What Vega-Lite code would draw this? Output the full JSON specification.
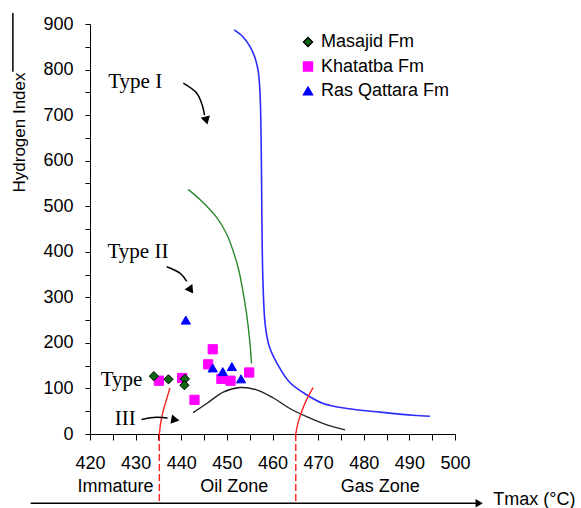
{
  "$schema": "https://vega.github.io/schema/vega-lite/v6.json",
  "width": 365,
  "height": 410,
  "autosize": {"type": "none"},
  "padding": {"left": 90, "top": 24, "right": 126, "bottom": 74},
  "background": "white",
  "config": {
    "view": {"stroke": null},
    "font": "Liberation Sans",
    "axis": {"grid": false, "domainColor": "#000", "tickColor": "#000", "labelColor": "#000", "titleColor": "#000", "labelFont": "Liberation Sans", "titleFont": "Liberation Sans", "labelFontSize": 18, "domainWidth": 1, "tickWidth": 1, "labelFlush": false, "labelOverlap": false},
    "legend": {"orient": "none", "legendX": 209, "legendY": 9, "padding": 0, "labelFontSize": 18, "labelFont": "Liberation Sans", "labelColor": "#000", "symbolSize": 80, "rowPadding": 6.5, "labelOffset": 4}
  },
  "datasets": {
    "samples": [
      {"series": "Khatatba Fm", "tmax": 446.9, "hi": 186},
      {"series": "Khatatba Fm", "tmax": 445.9, "hi": 153},
      {"series": "Khatatba Fm", "tmax": 440.2, "hi": 123},
      {"series": "Khatatba Fm", "tmax": 435.1, "hi": 117},
      {"series": "Khatatba Fm", "tmax": 442.9, "hi": 75},
      {"series": "Khatatba Fm", "tmax": 448.8, "hi": 121},
      {"series": "Khatatba Fm", "tmax": 450.8, "hi": 117},
      {"series": "Khatatba Fm", "tmax": 454.9, "hi": 135},
      {"series": "Masajid Fm", "tmax": 434.0, "hi": 127},
      {"series": "Masajid Fm", "tmax": 437.2, "hi": 120},
      {"series": "Masajid Fm", "tmax": 440.8, "hi": 121},
      {"series": "Masajid Fm", "tmax": 440.7, "hi": 107},
      {"series": "Ras Qattara Fm", "tmax": 441.0, "hi": 250},
      {"series": "Ras Qattara Fm", "tmax": 446.9, "hi": 145},
      {"series": "Ras Qattara Fm", "tmax": 449.1, "hi": 137},
      {"series": "Ras Qattara Fm", "tmax": 451.1, "hi": 148},
      {"series": "Ras Qattara Fm", "tmax": 453.1, "hi": 121}
    ],
    "curves": [
      {"curve": "typeI", "i": 0, "tmax": 451.6, "hi": 887},
      {"curve": "typeI", "i": 1, "tmax": 453.5, "hi": 872},
      {"curve": "typeI", "i": 2, "tmax": 455.1, "hi": 850},
      {"curve": "typeI", "i": 3, "tmax": 456.2, "hi": 825},
      {"curve": "typeI", "i": 4, "tmax": 456.9, "hi": 795},
      {"curve": "typeI", "i": 5, "tmax": 457.3, "hi": 740},
      {"curve": "typeI", "i": 6, "tmax": 457.5, "hi": 650},
      {"curve": "typeI", "i": 7, "tmax": 457.6, "hi": 558},
      {"curve": "typeI", "i": 8, "tmax": 457.7, "hi": 450},
      {"curve": "typeI", "i": 9, "tmax": 457.9, "hi": 338},
      {"curve": "typeI", "i": 10, "tmax": 458.4, "hi": 240},
      {"curve": "typeI", "i": 11, "tmax": 459.3, "hi": 192},
      {"curve": "typeI", "i": 12, "tmax": 461.0, "hi": 155},
      {"curve": "typeI", "i": 13, "tmax": 463.8, "hi": 113},
      {"curve": "typeI", "i": 14, "tmax": 467.5, "hi": 86},
      {"curve": "typeI", "i": 15, "tmax": 471.1, "hi": 67},
      {"curve": "typeI", "i": 16, "tmax": 476.3, "hi": 56},
      {"curve": "typeI", "i": 17, "tmax": 483.6, "hi": 48},
      {"curve": "typeI", "i": 18, "tmax": 490.8, "hi": 41},
      {"curve": "typeI", "i": 19, "tmax": 494.5, "hi": 39},
      {"curve": "typeII", "i": 0, "tmax": 441.5, "hi": 537},
      {"curve": "typeII", "i": 1, "tmax": 444.5, "hi": 511},
      {"curve": "typeII", "i": 2, "tmax": 447.8, "hi": 475},
      {"curve": "typeII", "i": 3, "tmax": 450.0, "hi": 438},
      {"curve": "typeII", "i": 4, "tmax": 451.5, "hi": 398},
      {"curve": "typeII", "i": 5, "tmax": 452.6, "hi": 360},
      {"curve": "typeII", "i": 6, "tmax": 453.4, "hi": 320},
      {"curve": "typeII", "i": 7, "tmax": 454.3, "hi": 265},
      {"curve": "typeII", "i": 8, "tmax": 455.0, "hi": 206},
      {"curve": "typeII", "i": 9, "tmax": 455.4, "hi": 155},
      {"curve": "typeIII", "i": 0, "tmax": 442.6, "hi": 47},
      {"curve": "typeIII", "i": 1, "tmax": 445.6, "hi": 67},
      {"curve": "typeIII", "i": 2, "tmax": 449.2, "hi": 92},
      {"curve": "typeIII", "i": 3, "tmax": 452.9, "hi": 102},
      {"curve": "typeIII", "i": 4, "tmax": 456.5, "hi": 97},
      {"curve": "typeIII", "i": 5, "tmax": 460.2, "hi": 79},
      {"curve": "typeIII", "i": 6, "tmax": 463.8, "hi": 56},
      {"curve": "typeIII", "i": 7, "tmax": 467.5, "hi": 38},
      {"curve": "typeIII", "i": 8, "tmax": 471.9, "hi": 20},
      {"curve": "typeIII", "i": 9, "tmax": 475.9, "hi": 9},
      {"curve": "redL", "i": 0, "tmax": 437.5, "hi": 101},
      {"curve": "redL", "i": 1, "tmax": 436.9, "hi": 80},
      {"curve": "redL", "i": 2, "tmax": 436.1, "hi": 53},
      {"curve": "redL", "i": 3, "tmax": 435.5, "hi": 25},
      {"curve": "redL", "i": 4, "tmax": 435.2, "hi": 0},
      {"curve": "redR", "i": 0, "tmax": 468.9, "hi": 102},
      {"curve": "redR", "i": 1, "tmax": 467.8, "hi": 82},
      {"curve": "redR", "i": 2, "tmax": 466.8, "hi": 60},
      {"curve": "redR", "i": 3, "tmax": 465.6, "hi": 25},
      {"curve": "redR", "i": 4, "tmax": 465.1, "hi": 0},
      {"curve": "dashL", "i": 0, "tmax": 435.2, "hi": 0},
      {"curve": "dashL", "i": 1, "tmax": 435.2, "hi": -152},
      {"curve": "dashR", "i": 0, "tmax": 465.1, "hi": 0},
      {"curve": "dashR", "i": 1, "tmax": 465.1, "hi": -152},
      {"curve": "arrowI", "i": 0, "tmax": 440.45, "hi": 770},
      {"curve": "arrowI", "i": 1, "tmax": 443.4, "hi": 748},
      {"curve": "arrowI", "i": 2, "tmax": 444.6, "hi": 722},
      {"curve": "arrowI", "i": 3, "tmax": 445.1, "hi": 700},
      {"curve": "arrowII", "i": 0, "tmax": 436.8, "hi": 367},
      {"curve": "arrowII", "i": 1, "tmax": 439.7, "hi": 353},
      {"curve": "arrowII", "i": 2, "tmax": 441.2, "hi": 335},
      {"curve": "arrowIII", "i": 0, "tmax": 431.3, "hi": 32},
      {"curve": "arrowIII", "i": 1, "tmax": 434.6, "hi": 36.5},
      {"curve": "arrowIII", "i": 2, "tmax": 437.0, "hi": 35},
      {"curve": "baseArrow", "i": 0, "tmax": 407.0, "hi": -152},
      {"curve": "baseArrow", "i": 1, "tmax": 505.0, "hi": -152},
      {"curve": "frame", "i": 0, "tmax": 403.1, "hi": 924},
      {"curve": "frame", "i": 1, "tmax": 403.1, "hi": 795}
    ],
    "heads": [
      {"head": "I", "tmax": 445.5, "hi": 688},
      {"head": "II", "tmax": 442.1, "hi": 316},
      {"head": "III", "tmax": 438.7, "hi": 31},
      {"head": "base", "tmax": 505.3, "hi": -152}
    ],
    "labels": [
      {"kind": "type", "text": "Type I", "tmax": 429.9, "hi": 773},
      {"kind": "type", "text": "Type II", "tmax": 430.5, "hi": 400},
      {"kind": "type", "text": "Type", "tmax": 426.9, "hi": 119},
      {"kind": "type", "text": "III", "tmax": 427.7, "hi": 34},
      {"kind": "zone", "text": "Immature", "tmax": 425.6, "hi": -116},
      {"kind": "zone", "text": "Oil Zone", "tmax": 451.6, "hi": -116},
      {"kind": "zone", "text": "Gas Zone", "tmax": 483.6, "hi": -116},
      {"kind": "axisname", "text": "Tmax (°C)", "tmax": 508.4, "hi": -145}
    ]
  },
  "encoding": {
    "x": {"field": "tmax", "type": "quantitative", "scale": {"domain": [420, 500], "nice": false, "zero": false},
      "axis": {"title": null, "values": [420,425,430,435,440,445,450,455,460,465,470,475,480,485,490,495,500], "labelExpr": "datum.value % 10 === 0 ? datum.label : ''", "tickSize": 6, "labelPadding": 14}},
    "y": {"field": "hi", "type": "quantitative", "scale": {"domain": [0, 900], "nice": false, "zero": false},
      "axis": {"title": "Hydrogen Index", "titleFontSize": 17, "titleFontWeight": "normal", "titleX": -62, "titleY": 108, "values": [0,50,100,150,200,250,300,350,400,450,500,550,600,650,700,750,800,850,900], "labelExpr": "datum.value % 100 === 0 ? datum.label : ''", "tickSize": 5, "labelPadding": 12}}
  },
  "layer": [
    {"data": {"name": "curves"}, "transform": [{"filter": "datum.curve === 'typeI'"}], "mark": {"type": "line", "color": "#2b2bff", "strokeWidth": 1.6, "interpolate": "catmull-rom"}, "encoding": {"order": {"field": "i", "type": "quantitative"}}},
    {"data": {"name": "curves"}, "transform": [{"filter": "datum.curve === 'typeII'"}], "mark": {"type": "line", "color": "#2a8a2a", "strokeWidth": 1.4, "interpolate": "catmull-rom"}, "encoding": {"order": {"field": "i", "type": "quantitative"}}},
    {"data": {"name": "curves"}, "transform": [{"filter": "datum.curve === 'typeIII'"}], "mark": {"type": "line", "color": "#222222", "strokeWidth": 1.4, "interpolate": "catmull-rom"}, "encoding": {"order": {"field": "i", "type": "quantitative"}}},
    {"data": {"name": "curves"}, "transform": [{"filter": "datum.curve === 'redL' || datum.curve === 'redR'"}], "mark": {"type": "line", "color": "#ff2020", "strokeWidth": 1.4, "interpolate": "catmull-rom"}, "encoding": {"detail": {"field": "curve"}, "order": {"field": "i", "type": "quantitative"}}},
    {"data": {"name": "curves"}, "transform": [{"filter": "datum.curve === 'dashL' || datum.curve === 'dashR'"}], "mark": {"type": "line", "color": "#ff2020", "strokeWidth": 1.4, "strokeDash": [7, 3]}, "encoding": {"detail": {"field": "curve"}, "order": {"field": "i", "type": "quantitative"}}},
    {"data": {"name": "curves"}, "transform": [{"filter": "indexof(['arrowI','arrowII','arrowIII','baseArrow','frame'], datum.curve) >= 0"}], "mark": {"type": "line", "color": "#000000", "strokeWidth": 1.5, "interpolate": "catmull-rom"}, "encoding": {"detail": {"field": "curve"}, "order": {"field": "i", "type": "quantitative"}}},
    {"data": {"name": "heads"}, "transform": [{"filter": "datum.head === 'I'"}], "mark": {"type": "point", "shape": "triangle-right", "filled": true, "color": "#000", "opacity": 1, "size": 90, "angle": 75}, "encoding": {}},
    {"data": {"name": "heads"}, "transform": [{"filter": "datum.head === 'II'"}], "mark": {"type": "point", "shape": "triangle-right", "filled": true, "color": "#000", "opacity": 1, "size": 90, "angle": 55}, "encoding": {}},
    {"data": {"name": "heads"}, "transform": [{"filter": "datum.head === 'III'"}], "mark": {"type": "point", "shape": "triangle-right", "filled": true, "color": "#000", "opacity": 1, "size": 90, "angle": 10}, "encoding": {}},
    {"data": {"name": "heads"}, "transform": [{"filter": "datum.head === 'base'"}], "mark": {"type": "point", "shape": "triangle-right", "filled": true, "color": "#000", "opacity": 1, "size": 70, "angle": 0}, "encoding": {}},
    {"data": {"name": "samples"}, "mark": {"type": "point", "filled": true, "opacity": 1, "size": 85, "strokeWidth": 1},
      "encoding": {
        "shape": {"field": "series", "type": "nominal", "title": null, "scale": {"domain": ["Masajid Fm", "Khatatba Fm", "Ras Qattara Fm"], "range": ["diamond", "square", "triangle-up"]}},
        "fill": {"field": "series", "type": "nominal", "title": null, "scale": {"domain": ["Masajid Fm", "Khatatba Fm", "Ras Qattara Fm"], "range": ["#0f6a0f", "#ff00ff", "#0000ff"]}},
        "stroke": {"field": "series", "type": "nominal", "title": null, "scale": {"domain": ["Masajid Fm", "Khatatba Fm", "Ras Qattara Fm"], "range": ["#000000", "#ff00ff", "#0000ff"]}}
      }},
    {"data": {"name": "labels"}, "transform": [{"filter": "datum.kind === 'type'"}], "mark": {"type": "text", "font": "Liberation Serif", "fontSize": 21, "color": "#000", "align": "center", "baseline": "middle"}, "encoding": {"text": {"field": "text"}}},
    {"data": {"name": "labels"}, "transform": [{"filter": "datum.kind === 'zone'"}], "mark": {"type": "text", "font": "Liberation Sans", "fontSize": 18, "color": "#000", "align": "center", "baseline": "middle"}, "encoding": {"text": {"field": "text"}}},
    {"data": {"name": "labels"}, "transform": [{"filter": "datum.kind === 'axisname'"}], "mark": {"type": "text", "font": "Liberation Sans", "fontSize": 18, "color": "#000", "align": "left", "baseline": "middle"}, "encoding": {"text": {"field": "text"}}}
  ]
}
